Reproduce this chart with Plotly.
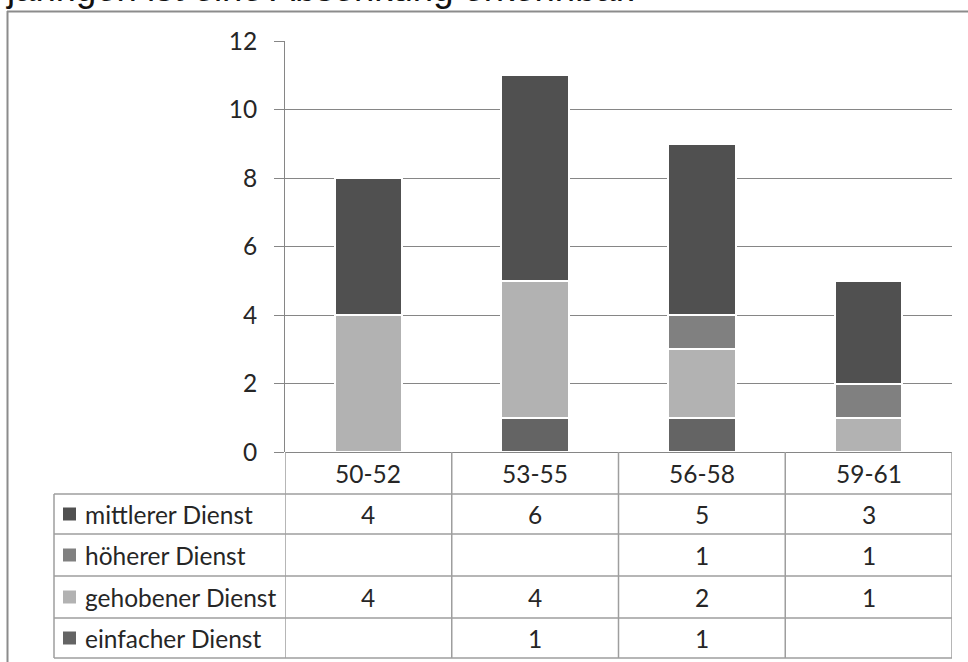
import plotly.graph_objects as go

# Age groups and head counts per career track
categories = ["50-52", "53-55", "56-58", "59-61"]
einfacher = [None, 1, 1, None]
gehobener = [4, 4, 2, 1]
hoeherer = [None, None, 1, 1]
mittlerer = [4, 6, 5, 3]
y_ticks = [0, 2, 4, 6, 8, 10, 12]

# stacking order, bottom to top
stack = [
    ("einfacher Dienst", einfacher, "#646464"),
    ("gehobener Dienst", gehobener, "#b2b2b2"),
    ("höherer Dienst", hoeherer, "#808080"),
    ("mittlerer Dienst", mittlerer, "#505050"),
]

W, H = 968, 662
L, R, T, B = 285, 16, 41, 210
PW, PH = W - L - R, H - T - B


def fx(px):
    return (px - L) / PW


def fy(py):
    return (H - B - py) / PH


FONT = "Lato, 'Open Sans', sans-serif"
FS = 24.5
TXT = "#262626"
GRID = "#868686"
TBL = "#9e9e9e"

fig = go.Figure()
for name, vals, col in stack:
    fig.add_trace(go.Bar(
        x=categories, y=vals, name=name, width=0.405,
        marker=dict(color=col, line=dict(color="white", width=2)),
        showlegend=False,
    ))

shapes = []
annotations = []

# frame of the chart object
shapes.append(dict(type="line", xref="paper", yref="paper",
                   x0=fx(7), x1=fx(W), y0=fy(11.5), y1=fy(11.5),
                   line=dict(color="#8c8c8c", width=2)))
shapes.append(dict(type="line", xref="paper", yref="paper",
                   x0=fx(7.5), x1=fx(7.5), y0=fy(11), y1=fy(H),
                   line=dict(color="#8c8c8c", width=2)))

# data table grid
row_lines = [494, 534, 576, 618, 658]
for py in row_lines:
    shapes.append(dict(type="line", xref="paper", yref="paper",
                       x0=fx(54), x1=1, y0=fy(py), y1=fy(py),
                       line=dict(color=TBL, width=1.5)))
for i in range(len(categories) + 1):
    shapes.append(dict(type="line", xref="x", yref="paper",
                       x0=i - 0.5, x1=i - 0.5, y0=0, y1=fy(658),
                       line=dict(color=TBL, width=1.5)))
shapes.append(dict(type="line", xref="paper", yref="paper",
                   x0=fx(54), x1=fx(54), y0=fy(494), y1=fy(658),
                   line=dict(color=TBL, width=1.5)))

# header row with category names
for i, c in enumerate(categories):
    annotations.append(dict(x=i, y=fy(473), xref="x", yref="paper",
                            text=c, showarrow=False, xanchor="center",
                            yanchor="middle",
                            font=dict(family=FONT, size=FS, color=TXT)))

# table rows, top to bottom
row_centers = [514, 555, 597, 638]
for (name, vals, col), py in zip(reversed(stack), row_centers):
    shapes.append(dict(type="rect", xref="paper", yref="paper",
                       x0=fx(63), x1=fx(76), y0=fy(py - 6.5), y1=fy(py + 6.5),
                       fillcolor=col, line=dict(width=0)))
    annotations.append(dict(x=fx(83), y=fy(py), xref="paper", yref="paper",
                            text=name, showarrow=False, xanchor="left",
                            yanchor="middle",
                            font=dict(family=FONT, size=FS, color=TXT)))
    for i, v in enumerate(vals):
        if v is None:
            continue
        annotations.append(dict(x=i, y=fy(py), xref="x", yref="paper",
                                text=str(v), showarrow=False,
                                xanchor="center", yanchor="middle",
                                font=dict(family=FONT, size=FS, color=TXT)))

# running text of the surrounding document, cut at the top edge
annotations.append(dict(x=fx(4), y=fy(10.5), xref="paper", yref="paper",
                        text="jährigen ist eine Absenkung erkennbar.",
                        showarrow=False, xanchor="left", yanchor="bottom",
                        font=dict(family="'Liberation Sans', Arial, sans-serif",
                                  size=36.5, color="#111111")))

fig.update_layout(
    width=W, height=H,
    margin=dict(l=L, r=R, t=T, b=B),
    paper_bgcolor="white", plot_bgcolor="white",
    barmode="stack",
    shapes=shapes, annotations=annotations,
    xaxis=dict(range=[-0.5, len(categories) - 0.5], showticklabels=False,
               showgrid=False, zeroline=False, showline=False, ticks=""),
    yaxis=dict(range=[0, 12], tickvals=y_ticks, showgrid=True,
               gridcolor=GRID, gridwidth=1, zeroline=True,
               zerolinecolor=GRID, zerolinewidth=1,
               showline=True, linecolor=GRID, linewidth=1,
               ticks="outside", ticklen=10, tickcolor=GRID,
               ticklabelstandoff=12,
               tickfont=dict(family=FONT, size=FS, color=TXT)),
)

fig.write_html("out.html")
